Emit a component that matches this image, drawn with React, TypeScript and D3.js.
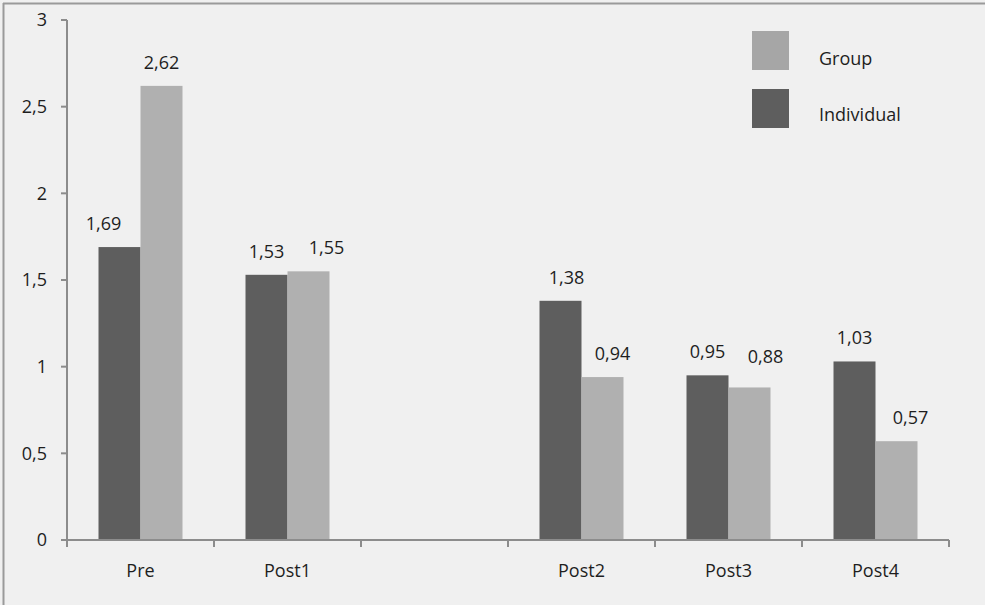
import React from "react";
import * as d3 from "d3";

const categories = ["Pre", "Post1", "", "Post2", "Post3", "Post4"];
const individual: (number | null)[] = [1.69, 1.53, null, 1.38, 0.95, 1.03];
const group: (number | null)[] = [2.62, 1.55, null, 0.94, 0.88, 0.57];
const yTicks = [0, 0.5, 1, 1.5, 2, 2.5, 3];
const seriesNames = ["Group", "Individual"];
// nudges of the value labels (Individual, Group) per category
const labelShiftIndividual = [-16, 0, 0, 6, 0, 0];
const labelShiftGroup = [0, 18, 0, 10, 16, 14];
const labelLiftGroup = [0, 0, 0, 0, 7, 0];

const W = 985;
const H = 605;
const left = 67;
const right = 949;
const top = 20;
const bottom = 540;
const DARK = "#5e5e5e";
const LIGHT = "#b0b0b0";
const AXIS = "#8c8c8c";
const TEXT = "#1e1e1e";
const FS = 18;
const FONT = "'Open Sans', 'Noto Sans', sans-serif";
const fmt = (v: number) => d3.format(".2f")(v).replace(".", ",");
const fmtTick = (v: number) => String(v).replace(".", ",");

export default function App() {
  const x = d3.scaleBand<number>().domain(d3.range(categories.length)).range([left, right]);
  const y = d3.scaleLinear().domain([0, 3]).range([bottom, top]);
  const bw = 42;
  const inner = d3.scaleBand<string>().domain(["ind", "grp"]).range([0, bw * 2]);

  const bars: React.ReactElement[] = [];
  const labels: React.ReactElement[] = [];
  categories.forEach((c, i) => {
    const cx = (x(i) as number) + x.bandwidth() / 2 - bw;
    const pairs: [string, number | null, string, number, number][] = [
      ["ind", individual[i], DARK, labelShiftIndividual[i], 0],
      ["grp", group[i], LIGHT, labelShiftGroup[i], labelLiftGroup[i]],
    ];
    pairs.forEach(([k, v, col, sh, lift]) => {
      if (v == null) return;
      const bx = cx + (inner(k) as number);
      bars.push(
        <rect key={`b${i}${k}`} x={bx} y={y(v)} width={inner.bandwidth()} height={bottom - y(v)} fill={col} />
      );
      labels.push(
        <text key={`l${i}${k}`} x={bx + inner.bandwidth() / 2 + sh} y={y(v) - 17 - lift} textAnchor="middle" fontSize={FS} fill={TEXT}>
          {fmt(v)}
        </text>
      );
    });
  });

  return (
    <svg width={W} height={H} style={{ position: "absolute", left: 0, top: 0, fontFamily: FONT }}>
      <rect x={0} y={0} width={W} height={H} fill="#f0f0f0" />
      <line x1={3.5} y1={3} x2={3.5} y2={H} stroke="#9a9a9a" strokeWidth={2} />
      <line x1={3} y1={3.5} x2={W} y2={3.5} stroke="#9a9a9a" strokeWidth={2} />
      {bars}
      {/* y axis */}
      <line x1={left} y1={top} x2={left} y2={bottom} stroke={AXIS} strokeWidth={2} />
      {yTicks.map((t) => (
        <g key={`yt${t}`}>
          <line x1={left - 6} y1={y(t)} x2={left} y2={y(t)} stroke={AXIS} strokeWidth={2} />
          <text x={47} y={y(t)} dy="0.35em" textAnchor="end" fontSize={FS} fill={TEXT}>
            {fmtTick(t)}
          </text>
        </g>
      ))}
      {/* x axis */}
      <line x1={left} y1={bottom} x2={right} y2={bottom} stroke={AXIS} strokeWidth={2} />
      {d3.range(categories.length + 1).map((i) => {
        const tx = i < categories.length ? (x(i) as number) : right;
        return <line key={`xt${i}`} x1={tx} y1={bottom} x2={tx} y2={bottom + 7} stroke={AXIS} strokeWidth={2} />;
      })}
      {categories.map((c, i) => (
        <text key={`xl${i}`} x={(x(i) as number) + x.bandwidth() / 2} y={577} textAnchor="middle" fontSize={FS} fill={TEXT}>
          {c}
        </text>
      ))}
      {labels}
      {/* legend */}
      {seriesNames.map((s, i) => (
        <g key={s}>
          <rect x={752} y={31 + i * 58} width={37} height={39} fill={i === 0 ? "#a6a6a6" : DARK} />
          <text x={819} y={65 + i * 56} fontSize={FS} fill={TEXT}>
            {s}
          </text>
        </g>
      ))}
    </svg>
  );
}
